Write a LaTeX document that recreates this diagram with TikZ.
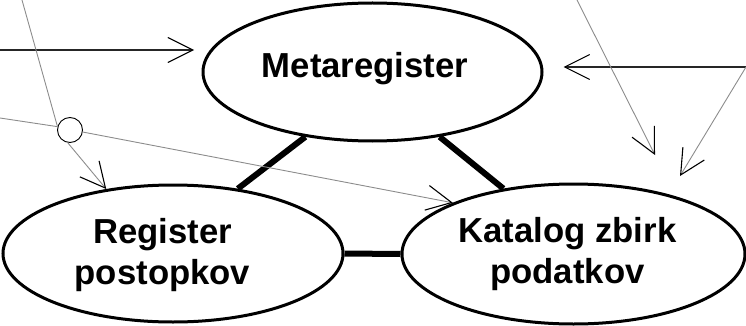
\documentclass[tikz,border=0pt]{standalone}
\usepackage{fontspec}
\setmainfont{Liberation Sans}
\usetikzlibrary{arrows.meta,shapes.geometric}
\begin{document}
\begin{tikzpicture}[x=1pt,y=-1pt,
  ell/.style={ellipse, draw, line width=3pt, fill=white, inner sep=0pt},
  lbl/.style={font=\fontsize{34.7}{41}\selectfont\bfseries, align=center, inner sep=0pt},
  thicklink/.style={line width=6pt},
  barb/.style={-{Straight Barb[length=25pt,width=25pt,line width=1.1pt,color=black]}},
  blackline/.style={line width=1.1pt, black!85},
  grayline/.style={line width=0.9pt, black!45},
  junction/.style={circle, draw, line width=0.9pt, minimum size=25pt, inner sep=0pt}]
\useasboundingbox (0,0) rectangle (746,326);
% ellipses
\node[ell, minimum width=339pt, minimum height=138pt] (meta) at (372.5,72) {};
\node[ell, minimum width=340pt, minimum height=137pt] (reg) at (173,253.5) {};
\node[ell, minimum width=343pt, minimum height=140pt] (kat) at (573.5,254) {};
% labels
\node[lbl, anchor=base] (metat) at (365,78) {Metaregister};
\node[lbl, anchor=base] (regt) at (162.5,284) {Register\\postopkov};
\node[lbl, anchor=base] (katt) at (567.5,283) {Katalog zbirk\\podatkov};
% junction circle
\node[junction] (junc) at (70,130) {};
% free ends
\coordinate (lin) at (0,50);
\coordinate (rin) at (746,67);
\coordinate (ltop) at (22,0);
\coordinate (lmid) at (0,118);
\coordinate (rtop) at (577,0);
\coordinate (tipA) at (655,155);
\coordinate (tipB) at (680,176);
% thick connectors
\draw[thicklink] (meta.224) -- (reg.45);
\draw[thicklink] (meta.316) -- (kat.137);
\draw[thicklink] (reg.east) -- (kat.west);
% thin arrows
\draw[blackline, barb, shorten >=7.5pt] (lin) -- (lin -| meta.west);
\draw[blackline, barb, shorten >=20pt] (rin) -- (rin -| meta.east);
\draw[grayline] (ltop) -- (junc.165);
\draw[grayline] (lmid) -- (junc.165);
\draw[grayline, barb] (junc.260) -- (reg.136);
\draw[grayline, barb] (junc.351) -- (kat.157);
\draw[grayline, barb] (rtop) -- (tipA);
\draw[grayline, barb] (rin) -- (tipB);
\end{tikzpicture}
\end{document}
